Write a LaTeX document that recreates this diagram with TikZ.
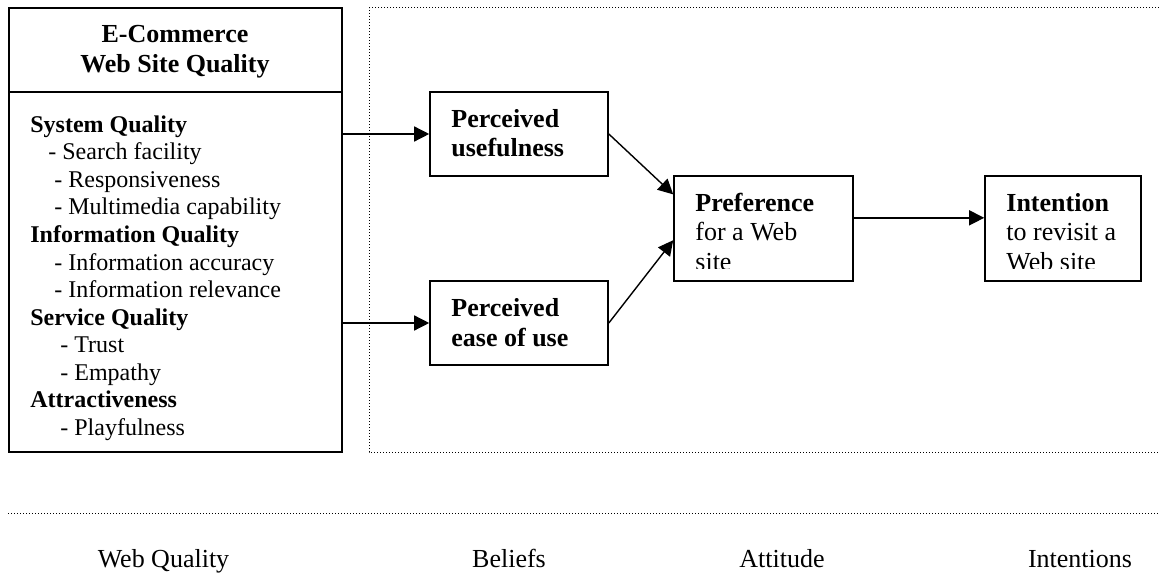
\documentclass[tikz,border=0pt]{standalone}
\usepackage{fontspec}
\setmainfont{Liberation Serif}
\usetikzlibrary{arrows.meta,calc}
\begin{document}
\begin{tikzpicture}[x=0.5pt,y=-0.5pt,
  boxshape/.style={draw,line width=0.8pt,inner sep=0pt},
  arr/.style={line width=0.7pt,-{Triangle[length=7.5pt,width=7.5pt]}},
  dotline/.style={line width=0.5pt,dash pattern=on 0.5pt off 1pt},
  body/.style={anchor=base west,inner sep=0pt,font=\fontsize{12}{13.8}\selectfont},
  hdr/.style={body,font=\fontsize{12}{13.8}\selectfont\bfseries},
  boxtext/.style={anchor=base west,inner sep=0pt,font=\fontsize{13}{14.5}\selectfont},
  boxhead/.style={boxtext,font=\fontsize{13}{14.5}\selectfont\bfseries},
  title/.style={anchor=base,inner sep=0pt,font=\fontsize{13}{14.5}\selectfont\bfseries},
  axislabel/.style={anchor=base,inner sep=0pt,font=\fontsize{13}{14.5}\selectfont}]
\useasboundingbox (0,0) rectangle (1159,576);

% dotted regions
\coordinate (d1) at (1159,8);
\coordinate (d2) at (369,8);
\coordinate (d3) at (369,452);
\coordinate (d4) at (1159,452);
\draw[dotline] (d1) -- (d2) -- (d3) -- (d4);
\coordinate (b1) at (8,513);
\coordinate (b2) at (1159,513);
\draw[dotline] (b1) -- (b2);

% left box
\node[boxshape,minimum width=166.5pt,minimum height=222pt] (wq) at (175.5,230) {};
\coordinate (divl) at (9,92);
\coordinate (divr) at (342,92);
\draw[line width=0.8pt] (divl) -- (divr);
\node[title] (t1) at (175,43) {E-Commerce};
\node[title] (t2) at (175,73) {Web Site Quality};

\node[hdr]  (l1)  at (30,133) {System Quality};
\node[body] (l2)  at (48,160) {- Search facility};
\node[body] (l3)  at (54,188) {- Responsiveness};
\node[body] (l4)  at (54,215) {- Multimedia capability};
\node[hdr]  (l5)  at (30,243) {Information Quality};
\node[body] (l6)  at (54,271) {- Information accuracy};
\node[body] (l7)  at (54,298) {- Information relevance};
\node[hdr]  (l8)  at (30,326) {Service Quality};
\node[body] (l9)  at (60,353) {- Trust};
\node[body] (l10) at (60,380) {- Empathy};
\node[hdr]  (l11) at (30,408) {Attractiveness};
\node[body] (l12) at (60,435) {- Playfulness};

% belief boxes
\node[boxshape,minimum width=89pt,minimum height=42pt] (pu) at (519,134) {};
\node[boxhead] (pu1) at (451,128) {Perceived};
\node[boxhead] (pu2) at (451,157) {usefulness};

\node[boxshape,minimum width=89pt,minimum height=42pt] (pe) at (519,323) {};
\node[boxhead] (pe1) at (451,317) {Perceived};
\node[boxhead] (pe2) at (451,347) {ease of use};

% attitude box
\node[boxshape,minimum width=89.5pt,minimum height=52.5pt] (pref) at (763.5,228.5) {};
\begin{scope}
\clip (674,176) rectangle (853,269);
\node[boxhead] (pr1) at (695,212) {Preference};
\node[boxtext] (pr2) at (695,241) {for a Web};
\node[boxtext] (pr3) at (695,271) {site};
\end{scope}

% intention box
\node[boxshape,minimum width=78pt,minimum height=52.5pt] (intn) at (1063,228.5) {};
\begin{scope}
\clip (985,176) rectangle (1141,269);
\node[boxhead] (in1) at (1006,212) {Intention};
\node[boxtext] (in2) at (1006,241) {to revisit a};
\node[boxtext] (in3) at (1006,271) {Web site};
\end{scope}

% connectors
\draw[arr] (pu.west -| wq.east) -- (pu.west);
\draw[arr] (pe.west -| wq.east) -- (pe.west);
\draw[arr] (pu.east) -- ($(pref.north west)!0.18!(pref.south west)$);
\draw[arr] (pe.east) -- ($(pref.north west)!0.61!(pref.south west)$);
\coordinate (pro) at ($(pref.north east)!0.4!(pref.south east)$);
\draw[arr] (pro) -- (pro -| intn.west);

% axis labels
\node[axislabel] (a1) at (163.5,567) {Web Quality};
\node[axislabel] (a2) at (509,567) {Beliefs};
\node[axislabel] (a3) at (782,567) {Attitude};
\node[axislabel] (a4) at (1080,567) {Intentions};
\end{tikzpicture}
\end{document}
